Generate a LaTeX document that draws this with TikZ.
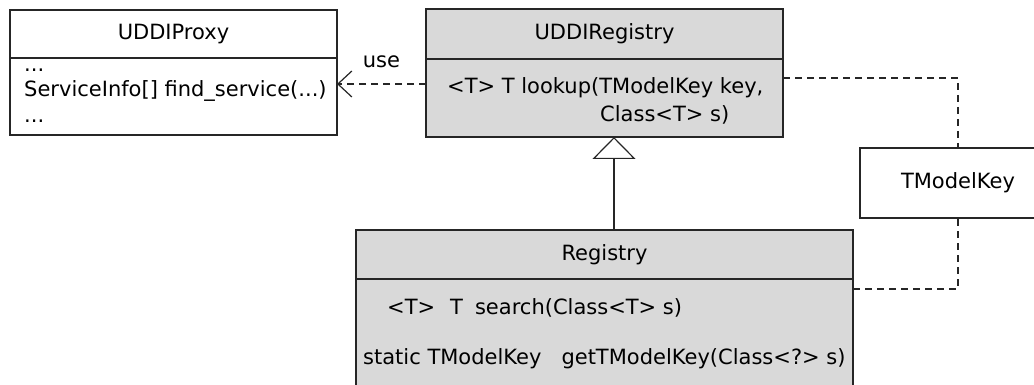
\documentclass[tikz,border=0pt]{standalone}
\usepackage{fontspec}
\setmainfont{DejaVu Sans}
\usetikzlibrary{positioning,arrows.meta}
\begin{document}
\begin{tikzpicture}[
    x=1pt, y=1pt,
    font=\fontsize{21}{25.5}\selectfont,
    classbox/.style={draw=black!85, line width=1.2pt, fill=white, inner sep=0pt, outer sep=0pt},
    ifacebox/.style={classbox, fill=gray!30},
    opstext/.style={anchor=west, align=left, inner sep=0pt},
    depline/.style={draw=black!85, line width=1.2pt, dash pattern=on 7pt off 5pt},
    genline/.style={draw=black!85, line width=1.2pt},
]
    \clip (0,0) rectangle (1034,385);

    % UDDIProxy class
    \node[classbox, minimum width=327pt, minimum height=48pt] (proxyhead) at (173.5,351) {UDDIProxy};
    \node[classbox, minimum width=327pt, minimum height=77pt, below=0pt of proxyhead] (proxybody) {};
    \node[opstext] (proxyops) at ([xshift=14pt,yshift=1pt]proxybody.west) {...\\ServiceInfo[] find\_service(...)\\...};

    % UDDIRegistry interface
    \node[ifacebox, minimum width=357pt, minimum height=50pt] (uddihead) at (604.5,351) {UDDIRegistry};
    \node[ifacebox, minimum width=357pt, minimum height=78pt, below=0pt of uddihead] (uddibody) {};
    \node[opstext] (uddiops) at ([xshift=21pt,yshift=-3pt]uddibody.west) {<T> T lookup(TModelKey key,\\[2pt]\hspace*{153pt}Class<T> s)};

    % Registry class
    \node[ifacebox, minimum width=497pt, minimum height=49pt] (reghead) at (604.5,130.5) {Registry};
    \node[ifacebox, minimum width=497pt, minimum height=116pt, below=0pt of reghead] (regbody) {};
    \node[opstext] (regsearch) at (387,77) {<T>\hspace{15pt}T\hspace{12pt}search(Class<T> s)};
    \node[opstext] (regkey) at (363,26) {static TModelKey\hspace{20pt}getTModelKey(Class<?> s)};

    % TModelKey class
    \node[classbox, minimum width=196pt, minimum height=70pt] (tmodel) at (958,202) {TModelKey};

    % use dependency
    \draw[depline, -{Straight Barb[length=14pt, width=26pt]}] ([yshift=14pt]uddibody.west) coordinate (usestart)
        -- (usestart -| proxybody.east) node[midway, above=16pt, inner sep=0pt] (uselabel) {use};

    % dependencies on TModelKey
    \draw[depline] ([yshift=-19pt]uddibody.north east) -| (tmodel.north);
    \draw[depline] ([yshift=-10pt]regbody.north east) -| (tmodel.south);

    % generalization
    \draw[genline, -{Triangle[open, length=22pt, width=43pt]}] ([xshift=9.5pt]reghead.north) coordinate (genstart)
        -- (genstart |- uddibody.south);
\end{tikzpicture}
\end{document}
